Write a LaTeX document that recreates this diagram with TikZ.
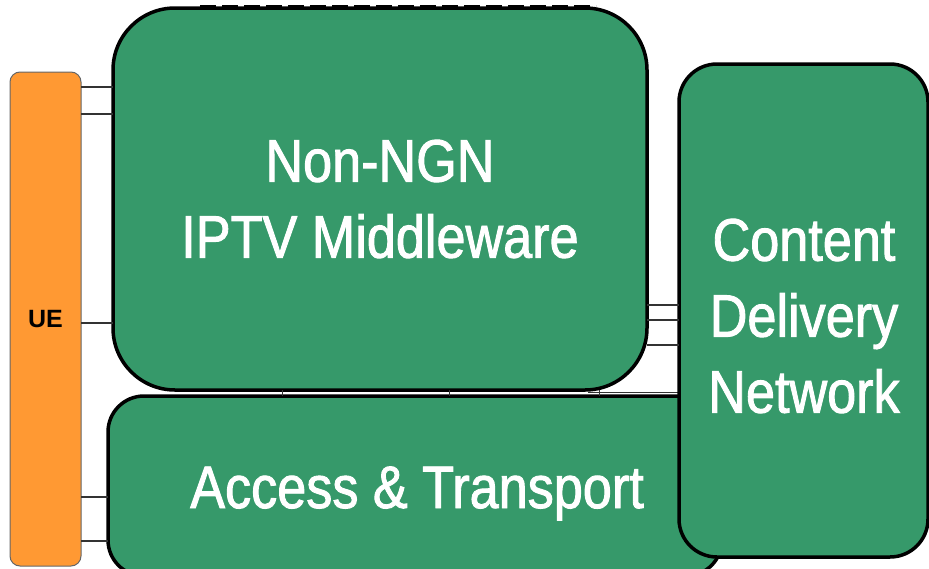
\documentclass[tikz,border=0pt]{standalone}
\usepackage{fontspec}
\setmainfont{Liberation Sans}
\newfontfamily\bigf[FakeStretch=0.87,FakeBold=1.5]{Liberation Sans}
\definecolor{boxgreen}{HTML}{36996A}
\definecolor{ueorange}{HTML}{FF9933}
\tikzset{
  greenbox/.style={draw=black, line width=3.5pt, fill=boxgreen, inner sep=0pt, outer sep=0pt,
    text=white, align=center, font=\bigf\fontsize{60}{76}\selectfont},
  uebox/.style={draw=black!60, line width=1pt, fill=ueorange, rounded corners=10pt, inner sep=0pt, outer sep=0pt,
    font=\bfseries\fontsize{25}{28}\selectfont},
  link/.style={draw=black!80, line width=1.1pt}
}
\begin{document}
\begin{tikzpicture}[x=1pt,y=-1pt]
\useasboundingbox (0,0) rectangle (929,568);
\node[uebox, minimum width=71pt, minimum height=494pt] (ue) at (45.5,319) {UE};
\draw[black, line width=3pt, dash pattern=on 16pt off 6pt] (200,6.5) -- (596,6.5);
\node[greenbox, rounded corners=62pt, minimum width=534pt, minimum height=382pt] (mw) at (380,199) {Non-NGN\\IPTV Middleware};
\node[greenbox, rounded corners=36pt, minimum width=614pt, minimum height=180pt] (at) at (415,486) {};
\node[text=white, font=\bigf\fontsize{60}{76}\selectfont, anchor=base] (attext) at (417,508) {Access \& Transport};
\coordinate (mwcorner) at (588,392.5);
\draw[link] (mwcorner) -- (678,392.5);
\node[greenbox, rounded corners=38pt, minimum width=249pt, minimum height=493pt] (cdn) at (803.5,310.5) {};
\node[text=white, align=center, font=\bigf\fontsize{60}{76}\selectfont] (cdntext) at (804,316) {Content\\Delivery\\Network};
% connectors UE - middleware
\foreach \y in {87,114,323} \draw[link] (ue.east |- 0,\y) -- (mw.west |- 0,\y);
% connectors UE - access
\foreach \y in {497,541} \draw[link] (ue.east |- 0,\y) -- (at.west |- 0,\y);
% connectors middleware - CDN
\foreach \y in {305,320,345} \draw[link] (mw.east |- 0,\y) -- (cdn.west |- 0,\y);
% connectors middleware - access
\foreach \x in {282,449,599} \draw[link, line width=0.8pt] (mw.south -| \x,0) -- (at.north -| \x,0);
\end{tikzpicture}
\end{document}
